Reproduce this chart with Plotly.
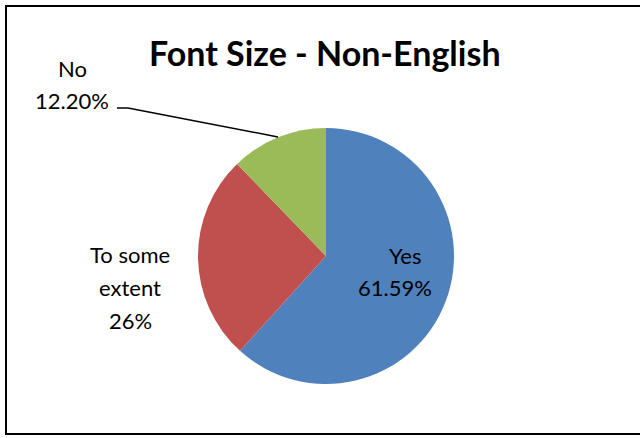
import plotly.graph_objects as go

categories = ["Yes", "To some extent", "No"]
values = [61.59, 26.0, 12.20]
value_labels = ["61.59%", "26%", "12.20%"]
colors = ["#4F81BD", "#C0504D", "#9BBB59"]
title_text = "Font Size - Non-English"

W, H = 640, 438
FONT = "Lato"

def px(x):
    return x / W

def py(y):
    return 1 - y / H

fig = go.Figure(go.Pie(
    labels=categories,
    values=values,
    sort=False,
    direction="clockwise",
    rotation=0,
    marker=dict(colors=colors, line=dict(width=0)),
    textinfo="none",
    hoverinfo="label+percent",
    showlegend=False,
    domain=dict(x=[px(198), px(454)], y=[py(384), py(128)]),
))

ann = []
def label(x, y, text, size=22, bold=False):
    ann.append(dict(x=px(x), y=py(y), xref="paper", yref="paper",
                    text=f"<b>{text}</b>" if bold else text, showarrow=False,
                    xanchor="center", yanchor="middle",
                    font=dict(family=FONT, size=size, color="black")))

label(325, 52, title_text, size=34, bold=True)
label(405, 255, categories[0])
label(395, 287, value_labels[0])
label(130, 254, "To some")
label(130, 287, "extent")
label(130, 320, value_labels[1])
label(72, 68, categories[2])
label(72, 100, value_labels[2])
fig.update_layout(annotations=ann)

shapes = [
    dict(type="path", xref="paper", yref="paper",
         path=f"M {px(117)} {py(108)} L {px(128)} {py(108)} L {px(278)} {py(137)}",
         line=dict(color="black", width=1.5)),
    dict(type="rect", xref="paper", yref="paper",
         x0=px(6), y0=py(434), x1=px(643), y1=py(6),
         line=dict(color="black", width=2)),
]
fig.update_layout(
    shapes=shapes,
    width=W, height=H,
    margin=dict(l=0, r=0, t=0, b=0),
    paper_bgcolor="white", plot_bgcolor="white",
    font=dict(family=FONT),
)

fig.write_html("out.html", config={"displayModeBar": False},
               post_script="document.body.style.margin='0';document.body.style.overflow='hidden';")
